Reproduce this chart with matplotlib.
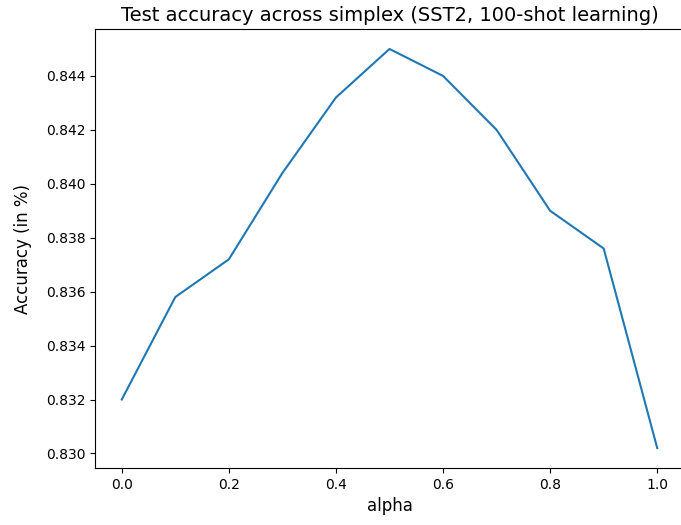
import matplotlib
matplotlib.use('Agg')
import matplotlib.pyplot as plt

alpha = [0.0, 0.1, 0.2, 0.3, 0.4, 0.5, 0.6, 0.7, 0.8, 0.9, 1.0]
accuracy = [0.8320, 0.8358, 0.8372, 0.8404, 0.8432, 0.8450, 0.8440, 0.8420, 0.8390, 0.8376, 0.8302]

fig = plt.figure(figsize=(6.81, 5.25), dpi=100)
# axes runs slightly past the right edge, as in the cropped original
ax = fig.add_axes([95/681, 57/525, 589/681, 439/525])
ax.plot(alpha, accuracy)
ax.set_title('Test accuracy across simplex (SST2, 100-shot learning)', fontsize=14)
ax.set_xlabel('alpha', fontsize=12)
ax.set_ylabel('Accuracy (in %)', fontsize=12, labelpad=10)
ax.set_yticks([0.830, 0.832, 0.834, 0.836, 0.838, 0.840, 0.842, 0.844])
ax.spines['right'].set_visible(False)

fig.savefig('out.png', dpi=100)
